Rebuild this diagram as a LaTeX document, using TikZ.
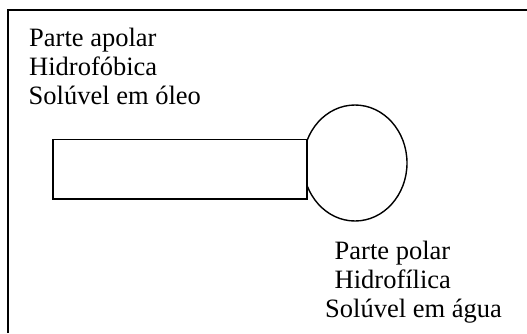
\documentclass[tikz,border=0pt]{standalone}
\usepackage{fontspec}
\setmainfont{Liberation Serif}
\usetikzlibrary{shapes.geometric}
\begin{document}
\begin{tikzpicture}[x=1pt,y=-1pt,
  lbl/.style={anchor=base west,inner sep=0pt,font=\fontsize{26.5}{29}\selectfont},
  shp/.style={draw=black,line width=1.4pt,inner sep=0pt}]
\useasboundingbox (0,0) rectangle (527,333);
\draw[line width=2pt] (8,333) -- (8,10) -- (527,10);
\node[shp,ellipse,minimum width=104pt,minimum height=116pt] (head) at (355,163) {};
\node[shp,line width=1.7pt,rectangle,fill=white,minimum width=254.6pt,minimum height=59.5pt] (tail) at (180,169.3) {};
\node[lbl] (a1) at (29,46) {Parte apolar};
\node[lbl] (a2) at (29,75) {Hidrofóbica};
\node[lbl] (a3) at (28.5,104) {Solúvel em óleo};
\node[lbl] (p1) at (334.5,259) {Parte polar};
\node[lbl] (p2) at (334.5,288) {Hidrofílica};
\node[lbl] (p3) at (325,317) {Solúvel em água};
\end{tikzpicture}
\end{document}
